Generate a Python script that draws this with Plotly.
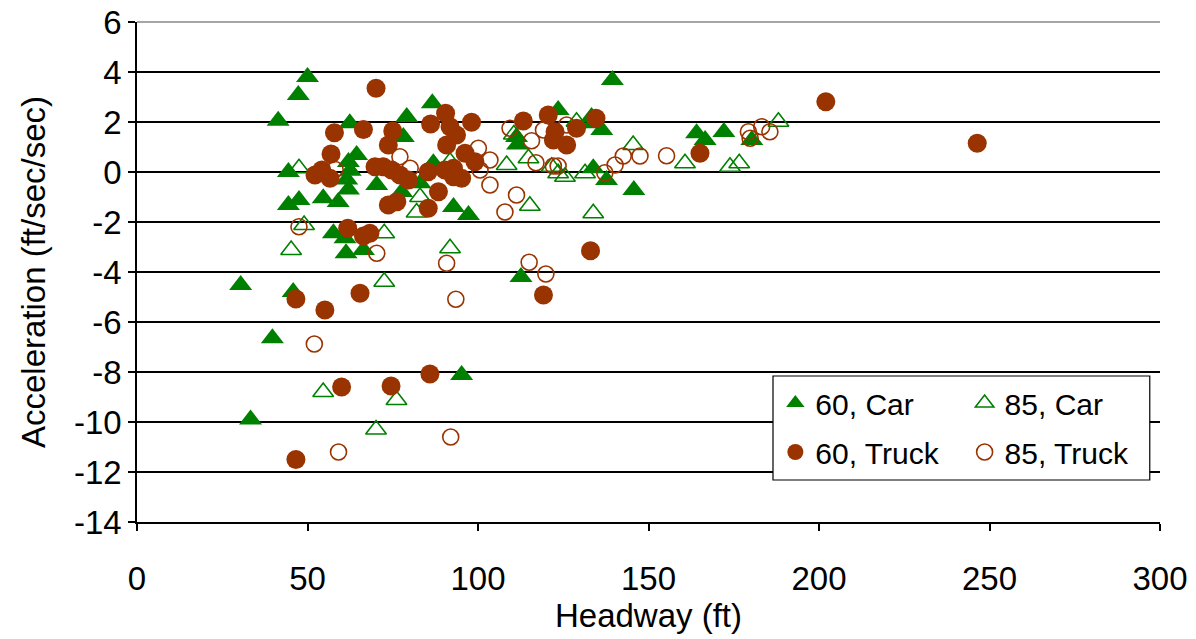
import plotly.graph_objects as go

# ---- data ----
car60_x = [30.4, 33.3, 39.7, 45.8, 50.0, 47.3, 41.4, 62.4, 79.1, 78.1, 44.4, 44.4, 47.5, 54.6,
           59.0, 64.4, 62.0, 62.5, 61.5, 62.0, 70.3, 77.6, 57.6, 61.0, 61.3, 66.4, 86.6, 83.0,
           86.9, 92.8, 97.2, 95.2, 112.6, 111.3, 111.6, 123.5, 133.3, 133.8, 136.3, 133.8,
           137.7, 145.7, 139.4, 164.1, 166.6, 172.1, 180.3]
car60_y = [-4.52, -9.9, -6.65, -4.8, 3.8, 3.08, 2.05, 1.95, 2.2, 1.4, 0.0, -1.32, -1.12, -1.05,
           -1.2, 0.68, 0.4, 0.05, -0.3, -0.7, -0.52, -0.8, -2.45, -2.65, -3.25, -3.12, 2.75, -0.45,
           0.35, -1.4, -1.72, -8.12, -4.2, 1.4, 1.1, 2.48, 2.2, 1.95, 1.68, 0.15,
           -0.32, -0.72, 3.68, 1.55, 1.28, 1.6, 1.28]

car85_x = [47.5, 49.0, 45.2, 54.6, 70.1, 76.1, 72.5, 72.5, 91.8, 115.2, 133.8, 82.0, 83.0, 91.8,
           108.4, 114.8, 121.6, 123.5, 125.5, 131.4, 145.5, 160.7, 173.9, 176.6, 188.1, 128.9, 110.5]
car85_y = [0.15, -2.12, -3.12, -8.8, -10.3, -9.12, -2.45, -4.39, -3.05, -1.35, -1.65, -1.62, -1.0, 0.41,
           0.28, 0.55, 0.21, -0.05, -0.19, -0.05, 1.08, 0.35, 0.21, 0.35, 2.01, 2.01, 1.5]

truck60_x = [70.1, 57.9, 66.4, 75.0, 73.7, 56.9, 52.2, 54.2, 56.6, 69.8, 72.2, 74.7, 77.1, 79.6,
             73.7, 76.2, 85.4, 88.4, 85.4, 90.3, 92.8, 95.2, 92.8, 90.5, 86.1, 98.1, 91.8, 93.7,
             90.8, 96.2, 99.1, 61.8, 66.4, 68.3, 46.6, 55.1, 65.4, 60.0, 74.5, 85.9, 46.6, 113.3,
             120.6, 122.6, 122.1, 126.0, 128.9, 134.6, 119.2, 133.0, 165.1, 202.0, 246.4]
truck60_y = [3.35, 1.57, 1.7, 1.64, 1.08, 0.72, -0.12, 0.08, -0.25, 0.21, 0.21, 0.08, -0.12, -0.32,
             -1.32, -1.19, -1.45, -0.79, 0.01, 0.08, 0.15, -0.25, -0.19, 2.35, 1.92, 1.99, 1.81, 1.48,
             1.08, 0.75, 0.41, -2.25, -2.56, -2.45, -5.08, -5.52, -4.85, -8.6, -8.56, -8.08, -11.5, 2.04,
             2.28, 1.61, 1.28, 1.08, 1.75, 2.15, -4.92, -3.15, 0.75, 2.81, 1.15]

truck85_x = [47.5, 52.0, 59.1, 70.3, 92.0, 90.8, 93.5, 115.0, 119.9, 107.9, 111.3, 103.5, 100.6,
             103.5, 100.1, 109.4, 115.7, 117.0, 122.1, 123.5, 119.2, 126.0, 137.2, 140.2, 142.6,
             147.5, 155.3, 179.3, 179.8, 183.2, 185.6, 77.1, 80.1, 58.1]
truck85_y = [-2.19, -6.88, -11.2, -3.25, -10.6, -3.65, -5.09, -3.61, -4.08, -1.6, -0.92, -0.52, 0.08,
             0.48, 0.95, 1.75, 1.25, 0.37, 0.24, 0.24, 1.68, 1.88, -0.03, 0.28, 0.64,
             0.64, 0.65, 1.61, 1.35, 1.81, 1.61, 0.61, 0.15, 0.1]

x_ticks = [0, 50, 100, 150, 200, 250, 300]
y_ticks = [6, 4, 2, 0, -2, -4, -6, -8, -10, -12, -14]

GREEN = "#008000"
BROWN = "#993300"
FONT = "Arial, Liberation Sans, sans-serif"

fig = go.Figure()
fig.add_trace(go.Scatter(x=car60_x, y=car60_y, mode="markers", name="60, Car",
                         marker=dict(symbol="triangle-up", size=20, color=GREEN),
                         legend="legend"))
fig.add_trace(go.Scatter(x=car85_x, y=car85_y, mode="markers", name="85, Car",
                         marker=dict(symbol="triangle-up-open", size=18, color=GREEN,
                                     line=dict(color=GREEN, width=1.6)),
                         legend="legend2"))
fig.add_trace(go.Scatter(x=truck60_x, y=truck60_y, mode="markers", name="60, Truck",
                         marker=dict(symbol="circle", size=19, color=BROWN),
                         legend="legend3"))
fig.add_trace(go.Scatter(x=truck85_x, y=truck85_y, mode="markers", name="85, Truck",
                         marker=dict(symbol="circle-open", size=16, color=BROWN,
                                     line=dict(color=BROWN, width=1.6)),
                         legend="legend4"))

leg_common = dict(font=dict(family=FONT, size=30, color="black"), bgcolor="rgba(0,0,0,0)",
                  borderwidth=0, xanchor="left", yanchor="middle")

fig.update_layout(
    width=1196, height=639,
    margin=dict(l=137, r=36, t=22, b=117),
    paper_bgcolor="white", plot_bgcolor="white",
    font=dict(family=FONT, size=33, color="black"),
    showlegend=True,
    legend=dict(x=0.624, y=0.238, **leg_common),
    legend2=dict(x=0.809, y=0.238, **leg_common),
    legend3=dict(x=0.624, y=0.140, **leg_common),
    legend4=dict(x=0.809, y=0.140, **leg_common),
    xaxis=dict(range=[0, 300], tickmode="array", tickvals=x_ticks,
               ticktext=[str(v) for v in x_ticks], automargin=False,
               ticklabeloverflow="allow",
               showgrid=False, zeroline=False, showline=True, linecolor="black", linewidth=1.5,
               ticks="outside", ticklen=7, tickcolor="black", tickwidth=1.5,
               ticklabelstandoff=20,
               title=dict(text="Headway (ft)", font=dict(size=33), standoff=6)),
    yaxis=dict(range=[-14, 6], tickmode="array", tickvals=y_ticks,
               ticktext=[str(v) for v in y_ticks], automargin=False,
               ticklabeloverflow="allow",
               showgrid=True, gridcolor="black", gridwidth=1.5,
               zeroline=False, showline=True, linecolor="black", linewidth=1.5,
               ticks="outside", ticklen=7, tickcolor="black", tickwidth=1.5,
               ticklabelstandoff=0,
               title=dict(text="Acceleration (ft/sec/sec)", font=dict(size=33), standoff=18)),
    shapes=[
        dict(type="line", xref="paper", yref="paper", x0=0, x1=1, y0=1, y1=1,
             line=dict(color="#888888", width=1.5), layer="above"),
        dict(type="rect", xref="paper", yref="paper", x0=0.6217, x1=0.990, y0=0.084, y1=0.292,
             line=dict(color="black", width=1.2), fillcolor="white", layer="above"),
    ],
)

# remove the default 8px page margin so the figure fills the window exactly
fig.write_html("out.html", config={"displayModeBar": False},
               post_script="document.body.style.margin='0';document.body.style.overflow='hidden';")
